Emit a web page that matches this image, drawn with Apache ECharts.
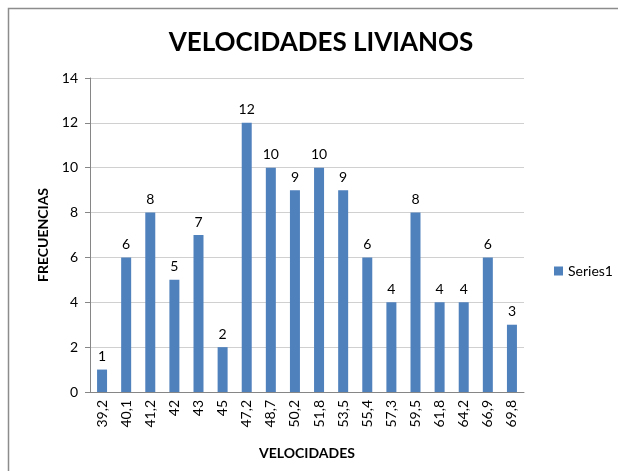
<!DOCTYPE html>
<html><head><meta charset="utf-8">
<script src="https://cdn.jsdelivr.net/npm/echarts@6/dist/echarts.min.js"></script>
<style>html,body{margin:0;padding:0;background:#fff}#c{width:618px;height:471px}</style>
</head><body><div id="c"></div>
<script>
const categories = ['39,2','40,1','41,2','42','43','45','47,2','48,7','50,2','51,8','53,5','55,4','57,3','59,5','61,8','64,2','66,9','69,8'];
const frecuencias = [1,6,8,5,7,2,12,10,9,10,9,6,4,8,4,4,6,3];
const seriesName = 'Series1';
const chartTitle = 'VELOCIDADES LIVIANOS';
const yTitle = 'FRECUENCIAS';
const xTitle = 'VELOCIDADES';
const F = 'Lato, "Open Sans", sans-serif';
const chart = echarts.init(document.getElementById('c'), null, {renderer:'canvas'});
chart.setOption({
  animation:false,
  graphic:[{type:'rect',shape:{x:8.5,y:8.5,width:700,height:600},style:{fill:'none',stroke:'#8c8c8c',lineWidth:1.5}}],
  title:{text:chartTitle,left:316,top:25,textAlign:'center',textStyle:{fontFamily:F,fontWeight:'bold',fontSize:26,color:'#000'}},
  legend:{data:[seriesName],left:549,top:259,itemWidth:9,itemHeight:9,itemGap:5,icon:'rect',textStyle:{fontFamily:F,fontSize:14,color:'#000'}},
  grid:{left:90,top:78,width:434,height:314,containLabel:false},
  xAxis:{type:'category',data:categories,name:xTitle,nameLocation:'middle',nameGap:54,
    nameTextStyle:{fontFamily:F,fontWeight:'bold',fontSize:14,color:'#000'},
    axisLine:{lineStyle:{color:'#868686'}},axisTick:{show:false},
    axisLabel:{rotate:90,fontFamily:F,fontSize:14,color:'#000',margin:8}},
  yAxis:{type:'value',min:0,max:14,interval:2,name:yTitle,nameLocation:'middle',nameGap:38,
    nameTextStyle:{fontFamily:F,fontWeight:'bold',fontSize:14,color:'#000'},
    axisLine:{show:true,lineStyle:{color:'#868686'}},axisTick:{show:true,length:5,inside:false,lineStyle:{color:'#868686'}},
    axisLabel:{fontFamily:F,fontSize:14,color:'#000',margin:12},
    splitLine:{lineStyle:{color:'#d0d0d0'}}},
  series:[{name:seriesName,type:'bar',data:frecuencias,barWidth:10,itemStyle:{color:'#4f81bd'},
    label:{show:true,position:'top',distance:6,fontFamily:F,fontSize:14,color:'#000'}}]
});
</script></body></html>
